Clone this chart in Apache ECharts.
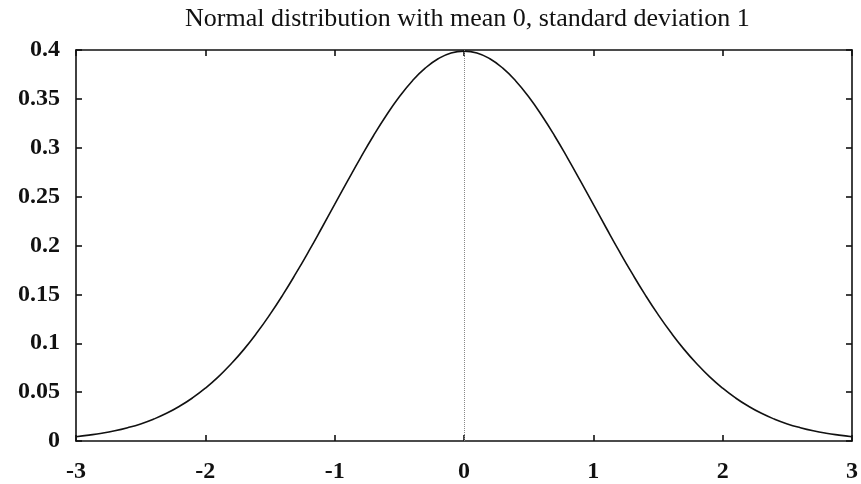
<!DOCTYPE html>
<html>
<head>
<meta charset="utf-8">
<script src="https://cdn.jsdelivr.net/npm/echarts@6/dist/echarts.min.js"></script>
<style>
  html, body { margin: 0; padding: 0; background: #fff; }
  #normal-chart { width: 861px; height: 484px; }
</style>
</head>
<body>
<div id="normal-chart"></div>
<script>
// values, x from -3 to 3 in steps of 0.1
const xValues = [
  -3.0, -2.9, -2.8, -2.7, -2.6, -2.5, -2.4, -2.3, -2.2, -2.1,
  -2.0, -1.9, -1.8, -1.7, -1.6, -1.5, -1.4, -1.3, -1.2, -1.1,
  -1.0, -0.9, -0.8, -0.7, -0.6, -0.5, -0.4, -0.3, -0.2, -0.1,
  0.0, 0.1, 0.2, 0.3, 0.4, 0.5, 0.6, 0.7, 0.8, 0.9,
  1.0, 1.1, 1.2, 1.3, 1.4, 1.5, 1.6, 1.7, 1.8, 1.9,
  2.0, 2.1, 2.2, 2.3, 2.4, 2.5, 2.6, 2.7, 2.8, 2.9, 3.0
]
const densityValues = [
  0.0044, 0.0060, 0.0079, 0.0104, 0.0136, 0.0175, 0.0224, 0.0283, 0.0355, 0.0440,
  0.0540, 0.0656, 0.0790, 0.0940, 0.1109, 0.1295, 0.1497, 0.1714, 0.1942, 0.2179,
  0.2420, 0.2661, 0.2897, 0.3123, 0.3332, 0.3521, 0.3683, 0.3814, 0.3910, 0.3970,
  0.3989, 0.3970, 0.3910, 0.3814, 0.3683, 0.3521, 0.3332, 0.3123, 0.2897, 0.2661,
  0.2420, 0.2179, 0.1942, 0.1714, 0.1497, 0.1295, 0.1109, 0.0940, 0.0790, 0.0656,
  0.0540, 0.0440, 0.0355, 0.0283, 0.0224, 0.0175, 0.0136, 0.0104, 0.0079, 0.0060, 0.0044
]
const xTicks = [-3, -2, -1, 0, 1, 2, 3]
const yTicks = [0, 0.05, 0.1, 0.15, 0.2, 0.25, 0.3, 0.35, 0.4]
const meanLine = [0]

const chart = echarts.init(document.getElementById('normal-chart'))
const font = '"Liberation Serif", "DejaVu Serif", serif'
const axisLine = { show: true, onZero: false, lineStyle: { color: '#111', width: 1.6 } }
const tick = { show: true, inside: true, length: 6, lineStyle: { color: '#111', width: 1.6 } }

const option = {
  animation: false,
  title: {
    text: 'Normal distribution with mean 0, standard deviation 1',
    left: 180,
    top: 1,
    textStyle: { fontFamily: font, fontSize: 26, fontWeight: 'normal', color: '#111' }
  },
  grid: { left: 76, right: 2, top: 50, bottom: 42 },
  xAxis: [
    {
      type: 'value',
      min: xTicks[0],
      max: xTicks[xTicks.length - 1],
      interval: 1,
      axisLine: axisLine,
      axisTick: tick,
      splitLine: { show: false },
      axisLabel: { margin: 19, fontFamily: font, fontSize: 24, fontWeight: 'bold', color: '#111' }
    },
    {
      type: 'value',
      position: 'top',
      min: xTicks[0],
      max: xTicks[xTicks.length - 1],
      interval: 1,
      axisLine: axisLine,
      axisTick: tick,
      splitLine: { show: false },
      axisLabel: { show: false }
    }
  ],
  yAxis: [
    {
      type: 'value',
      min: yTicks[0],
      max: yTicks[yTicks.length - 1],
      interval: 0.05,
      axisLine: axisLine,
      axisTick: tick,
      splitLine: { show: false },
      axisLabel: { margin: 16, fontFamily: font, fontSize: 24, fontWeight: 'bold', color: '#111' }
    },
    {
      type: 'value',
      position: 'right',
      min: yTicks[0],
      max: yTicks[yTicks.length - 1],
      interval: 0.05,
      axisLine: axisLine,
      axisTick: tick,
      splitLine: { show: false },
      axisLabel: { show: false }
    }
  ],
  series: [
    {
      type: 'line',
      data: xValues.map((x, i) => [x, densityValues[i]]),
      smooth: true,
      symbol: 'none',
      lineStyle: { color: '#111', width: 1.6 },
      markLine: {
        silent: true,
        symbol: 'none',
        label: { show: false },
        lineStyle: { color: '#888', type: 'dotted', width: 1 },
        data: meanLine.map(v => ({ xAxis: v }))
      }
    }
  ]
}

chart.setOption(option)
</script>
</body>
</html>
